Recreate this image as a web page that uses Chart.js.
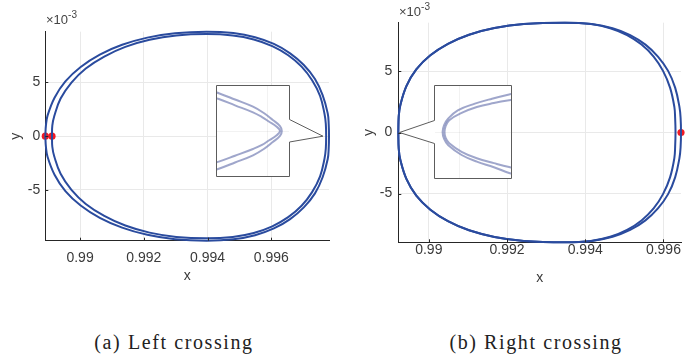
<!DOCTYPE html>
<html>
<head>
<meta charset="utf-8">
<script src="https://cdn.jsdelivr.net/npm/chart.js@4/dist/chart.umd.min.js"></script>
<style>
html,body{margin:0;padding:0;background:#fff;}
#wrap{position:relative;width:685px;height:354px;overflow:hidden;background:#fff;}
canvas{position:absolute;display:block;}
.cap{position:absolute;font-family:"Liberation Serif","Times New Roman",serif;font-size:20px;line-height:24px;color:#222;white-space:nowrap;transform:translateX(-50%);letter-spacing:1.6px;}
.exp{position:absolute;font-family:"Liberation Sans",Arial,sans-serif;font-size:13px;line-height:15px;color:#444;white-space:nowrap;}
.exp sup{font-size:10px;vertical-align:6px;line-height:0;}
</style>
</head>
<body>
<div id="wrap">
  <canvas id="mainA" width="340" height="290" style="left:0;top:0"></canvas>
  <canvas id="mainB" width="345" height="290" style="left:340px;top:0"></canvas>
  <canvas id="insA" width="72" height="90" style="left:217px;top:86px"></canvas>
  <canvas id="insB" width="76" height="92" style="left:435px;top:86px"></canvas>
  <div class="exp" style="left:46px;top:12px">&times;10<sup>-3</sup></div>
  <div class="exp" style="left:399px;top:4px">&times;10<sup>-3</sup></div>
  <div class="cap" style="left:174px;top:330px">(a) Left crossing</div>
  <div class="cap" style="left:536px;top:330px">(b) Right crossing</div>
</div>
<script>
// ---------- tick values / labels ----------
const xTicks = [0.99, 0.992, 0.994, 0.996];
const xTickLabels = ['0.99', '0.992', '0.994', '0.996'];
const yTicks = [-5, 0, 5];            // y in units of 1e-3
const yTickLabels = ['-5', '0', '5'];

// ---------- (a) Left crossing : two revolutions ----------
const leftOuterX = [0.98891,0.98893,0.98898,0.98920,0.98954,0.99002,0.99062,0.99132,0.99211,0.99298,0.99397,0.99481,0.99549,0.99608,0.99659,0.99702,0.99737,0.99761,0.99777,0.99780,0.99781,
                    0.99780,0.99777,0.99761,0.99737,0.99702,0.99659,0.99608,0.99549,0.99481,0.99397,0.99298,0.99211,0.99132,0.99062,0.99002,0.98954,0.98920,0.98898,0.98893,0.98891];
const leftOuterY = [0,1.00,1.91,3.58,5.10,6.44,7.59,8.50,9.17,9.58,9.72,9.59,9.21,8.58,7.71,6.62,5.32,3.82,2.12,1.16,0,
                    -1.16,-2.12,-3.82,-5.32,-6.62,-7.71,-8.58,-9.21,-9.59,-9.72,-9.58,-9.17,-8.50,-7.59,-6.44,-5.10,-3.58,-1.91,-1.00,0];
const leftInnerX = [0.98912,0.98913,0.98919,0.98939,0.98973,0.99018,0.99076,0.99142,0.99218,0.99302,0.99397,0.99479,0.99545,0.99603,0.99653,0.99695,0.99728,0.99753,0.99767,0.99771,0.99772,
                    0.99771,0.99767,0.99753,0.99728,0.99695,0.99653,0.99603,0.99545,0.99479,0.99397,0.99302,0.99218,0.99142,0.99076,0.99018,0.98973,0.98939,0.98919,0.98913,0.98912];
const leftInnerY = [0,0.98,1.86,3.50,4.99,6.30,7.41,8.31,8.97,9.37,9.50,9.37,9.00,8.38,7.53,6.47,5.20,3.74,2.07,1.14,0,
                    -1.14,-2.07,-3.74,-5.20,-6.47,-7.53,-8.38,-9.00,-9.37,-9.50,-9.37,-8.97,-8.31,-7.41,-6.30,-4.99,-3.50,-1.86,-0.98,0];
const leftDotsX = [0.98891, 0.98912];
const leftDotsY = [0, 0];
const leftTip = [0.99762, 0];
// magnified view (a)
const insAOuterX = [0.99736,0.99741,0.99750,0.99760,0.99766,0.99771,0.99775,0.99776,0.99775,0.99771,0.99766,0.99760,0.99750,0.99741,0.99736];
const insAOuterY = [0.90,0.84,0.70,0.54,0.40,0.245,0.11,0,-0.11,-0.245,-0.40,-0.54,-0.70,-0.84,-0.90];
const insAInnerX = [0.99736,0.99741,0.99750,0.99760,0.99765,0.99769,0.99773,0.99775,0.99773,0.99769,0.99765,0.99760,0.99750,0.99741,0.99736];
const insAInnerY = [0.76,0.71,0.57,0.415,0.31,0.205,0.10,0,-0.10,-0.205,-0.31,-0.40,-0.55,-0.68,-0.73];

// ---------- (b) Right crossing ----------
const rightOuterX = [0.98922,0.98923,0.98927,0.98943,0.98968,0.99004,0.99049,0.99103,0.99168,0.99243,0.99348,0.99417,0.99470,0.99515,0.99554,0.99586,0.99612,0.99630,0.99641,0.99644,0.99645,
                     0.99644,0.99641,0.99630,0.99612,0.99586,0.99554,0.99515,0.99470,0.99417,0.99348,0.99243,0.99168,0.99103,0.99049,0.99004,0.98968,0.98943,0.98927,0.98923,0.98922];
const rightOuterY = [0,1.28,2.21,3.81,5.16,6.31,7.25,8.00,8.54,8.87,8.98,8.87,8.53,7.97,7.19,6.21,5.04,3.67,2.09,1.18,0,
                     -1.18,-2.09,-3.67,-5.04,-6.21,-7.19,-7.97,-8.53,-8.87,-8.98,-8.87,-8.54,-8.00,-7.25,-6.31,-5.16,-3.81,-2.21,-1.28,0];
const rightInnerX = [0.98922,0.98923,0.98927,0.98943,0.98968,0.99004,0.99049,0.99103,0.99168,0.99243,0.99348,0.99414,0.99464,0.99507,0.99544,0.99575,0.99599,0.99617,0.99628,0.99630,0.99631,
                     0.99630,0.99628,0.99617,0.99599,0.99575,0.99544,0.99507,0.99464,0.99414,0.99348,0.99243,0.99168,0.99103,0.99049,0.99004,0.98968,0.98943,0.98927,0.98923,0.98922];
const rightInnerY = [0,1.28,2.21,3.81,5.16,6.31,7.25,8.00,8.54,8.87,8.98,8.87,8.53,7.97,7.19,6.21,5.04,3.67,2.09,1.18,0,
                     -1.18,-2.09,-3.67,-5.04,-6.21,-7.19,-7.97,-8.53,-8.87,-8.98,-8.87,-8.54,-8.00,-7.25,-6.31,-5.16,-3.81,-2.21,-1.28,0];
const rightDotsX = [0.99645];
const rightDotsY = [0];
const rightTip = [0.98925, 0];
// magnified view (b)
const insBOuterX = [0.98962,0.98959,0.98950,0.98941,0.98932,0.98927,0.989248,0.98924,0.989248,0.98927,0.98934,0.98942,0.98951,0.98959,0.98962];
const insBOuterY = [0.84,0.817,0.724,0.616,0.472,0.293,0.15,0,-0.15,-0.29,-0.50,-0.645,-0.765,-0.892,-0.92];
const insBInnerX = [0.98962,0.98959,0.98951,0.98942,0.98934,0.989275,0.989256,0.98925,0.989256,0.989275,0.98934,0.98942,0.98951,0.98959,0.98962];
const insBInnerY = [0.70,0.688,0.629,0.543,0.414,0.256,0.13,0,-0.13,-0.246,-0.43,-0.57,-0.677,-0.763,-0.78];

// ---------- styling ----------
const BLUE = '#2a4b9e';
const RED = '#f21a24';
const GRID = '#e9e9e9';
const AXIS = '#262626';
const TXT = '#3a3a3a';
const FONT = 'Liberation Sans, Arial, sans-serif';

const pts = (xs, ys) => xs.map((x, i) => ({x: x, y: ys[i]}));

const inwardTicks = {
  id: 'inwardTicks',
  afterDraw(chart) {
    const {ctx, chartArea: a, scales} = chart;
    ctx.save();
    ctx.strokeStyle = AXIS; ctx.lineWidth = 1;
    ctx.beginPath();
    scales.x.ticks.forEach(t => {
      const p = Math.round(scales.x.getPixelForValue(t.value)) + 0.5;
      ctx.moveTo(p, a.bottom); ctx.lineTo(p, a.bottom - 3);
    });
    scales.y.ticks.forEach(t => {
      const p = Math.round(scales.y.getPixelForValue(t.value)) + 0.5;
      ctx.moveTo(a.left, p); ctx.lineTo(a.left + 3, p);
    });
    ctx.stroke();
    ctx.restore();
  }
};

function calloutPlugin(box, tip, side) {
  return {
    id: 'callout',
    afterDatasetsDraw(chart) {
      const {ctx, scales} = chart;
      const tx = scales.x.getPixelForValue(tip[0]);
      const ty = scales.y.getPixelForValue(tip[1]);
      const x0 = box.x0 + 0.5, x1 = box.x1 + 0.5, y0 = box.y0 + 0.5, y1 = box.y1 + 0.5;
      ctx.save();
      ctx.beginPath();
      if (side === 'right') {
        ctx.moveTo(x0, y0); ctx.lineTo(x1, y0); ctx.lineTo(x1, box.ya);
        ctx.lineTo(tx, ty); ctx.lineTo(x1, box.yb); ctx.lineTo(x1, y1); ctx.lineTo(x0, y1);
      } else {
        ctx.moveTo(x0, y0); ctx.lineTo(x1, y0); ctx.lineTo(x1, y1); ctx.lineTo(x0, y1);
        ctx.lineTo(x0, box.yb); ctx.lineTo(tx, ty); ctx.lineTo(x0, box.ya);
      }
      ctx.closePath();
      ctx.fillStyle = '#fff'; ctx.fill();
      ctx.strokeStyle = '#5c5c5c'; ctx.lineWidth = 1; ctx.stroke();
      ctx.restore();
    }
  };
}

function mainChart(id, c) {
  return new Chart(document.getElementById(id), {
    type: 'scatter',
    data: {datasets: [
      {data: pts(c.outerX, c.outerY), showLine: true, borderColor: BLUE, borderWidth: 2, pointRadius: 0, tension: 0.4, clip: false},
      {data: pts(c.innerX, c.innerY), showLine: true, borderColor: BLUE, borderWidth: 2, pointRadius: 0, tension: 0.4, clip: false},
      {data: pts(c.dotX, c.dotY), showLine: false, pointRadius: 3.6, pointBackgroundColor: RED, pointBorderWidth: 0, clip: false}
    ]},
    options: {
      responsive: false, animation: false, events: [],
      layout: {padding: c.pad},
      plugins: {legend: {display: false}, tooltip: {enabled: false}},
      scales: {
        x: {
          type: 'linear', min: c.xmin, max: c.xmax,
          afterBuildTicks: s => { s.ticks = xTicks.map(v => ({value: v})); },
          afterFit: s => { s.height = c.xh; },
          ticks: {callback: (v, i) => xTickLabels[i], font: {family: FONT, size: 14}, color: TXT, padding: c.xtp, maxRotation: 0, autoSkip: false},
          grid: {color: GRID, drawTicks: false},
          border: {color: AXIS, width: 1},
          title: {display: true, text: 'x', font: {family: FONT, size: 14}, color: TXT, padding: {top: 0, bottom: c.xtb}}
        },
        y: {
          type: 'linear', min: c.ymin, max: c.ymax,
          afterBuildTicks: s => { s.ticks = yTicks.map(v => ({value: v})); },
          afterFit: s => { s.width = c.yw; },
          ticks: {callback: (v, i) => yTickLabels[i], font: {family: FONT, size: 14}, color: TXT, padding: c.ytp, autoSkip: false},
          grid: {color: GRID, drawTicks: false},
          border: {color: AXIS, width: 1},
          title: {display: true, text: 'y', font: {family: FONT, size: 14}, color: TXT, padding: {top: c.ytt, bottom: 0}}
        }
      }
    },
    plugins: [inwardTicks, calloutPlugin(c.box, c.tip, c.side)]
  });
}

function insetChart(id, c) {
  const ds = (xs, ys) => ({data: pts(xs, ys), showLine: true, borderColor: 'rgba(80,92,160,0.55)', borderWidth: 2, pointRadius: 0, tension: 0.4});
  return new Chart(document.getElementById(id), {
    type: 'scatter',
    data: {datasets: [ds(c.ax, c.ay), ds(c.bx, c.by)]},
    options: {
      responsive: false, animation: false, events: [],
      layout: {padding: 0},
      plugins: {legend: {display: false}, tooltip: {enabled: false}},
      scales: {
        x: {type: 'linear', min: c.xmin, max: c.xmax, ticks: {display: false}, grid: {color: 'rgba(0,0,0,0.05)', drawTicks: false}, border: {display: false},
            afterBuildTicks: s => { s.ticks = c.gx.map(v => ({value: v})); }, afterFit: s => { s.height = 0; }},
        y: {type: 'linear', min: c.ymin, max: c.ymax, ticks: {display: false}, grid: {color: 'rgba(0,0,0,0.05)', drawTicks: false}, border: {display: false},
            afterBuildTicks: s => { s.ticks = c.gy.map(v => ({value: v})); }, afterFit: s => { s.width = 0; }}
      }
    }
  });
}

mainChart('mainA', {
  outerX: leftOuterX, outerY: leftOuterY, innerX: leftInnerX, innerY: leftInnerY, dotX: leftDotsX, dotY: leftDotsY,
  xmin: 0.98891, xmax: 0.99781, ymin: -9.72, ymax: 9.72,
  pad: {left: 0, top: 31.7, right: 11, bottom: 0}, xh: 49.3, yw: 45.3,
  xtp: 9, xtb: 5, ytp: 5, ytt: 8,
  box: {x0: 216, y0: 85, x1: 289, y1: 176, ya: 119.5, yb: 142}, tip: leftTip, side: 'right'
});
mainChart('mainB', {
  outerX: rightOuterX, outerY: rightOuterY, innerX: rightInnerX, innerY: rightInnerY, dotX: rightDotsX, dotY: rightDotsY,
  xmin: 0.98922, xmax: 0.99645, ymin: -8.98, ymax: 8.98,
  pad: {left: 0, top: 22.7, right: 1, bottom: 0}, xh: 47.7, yw: 58.3,
  xtp: -1, xtb: 3, ytp: 6, ytt: 20.5,
  box: {x0: 94, y0: 85, x1: 171, y1: 178, ya: 120.5, yb: 143.5}, tip: rightTip, side: 'left'
});
insetChart('insA', {
  ax: insAOuterX, ay: insAOuterY, bx: insAInnerX, by: insAInnerY,
  xmin: 0.9974, xmax: 0.9978, ymin: -1, ymax: 1, gx: [0.99768], gy: [0]
});
insetChart('insB', {
  ax: insBOuterX, ay: insBOuterY, bx: insBInnerX, by: insBInnerY,
  xmin: 0.9892, xmax: 0.9896, ymin: -1, ymax: 1, gx: [0.98933], gy: [0]
});
</script>
</body>
</html>
